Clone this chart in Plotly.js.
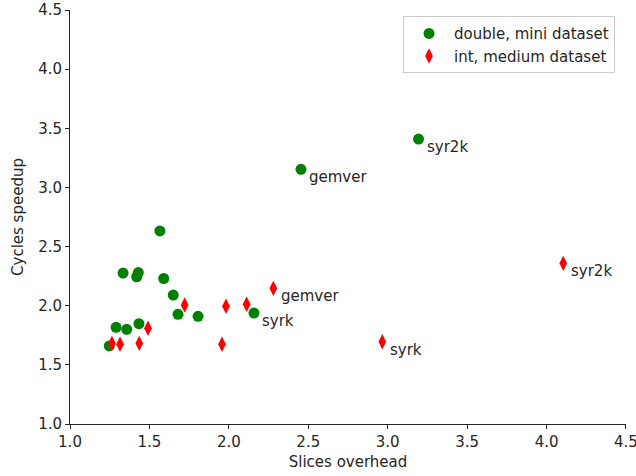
<!DOCTYPE html>
<html>
<head>
<meta charset="utf-8">
<script src="https://cdn.plot.ly/plotly-3.0.1.min.js"></script>
<style>html,body{margin:0;padding:0;background:#fff;}#chart{width:636px;height:476px;}</style>
</head>
<body>
<div id="chart"></div>
<script>
// double, mini dataset
const doubleX = [1.247, 1.29, 1.357, 1.334, 1.43, 1.42, 1.566, 1.59, 1.65, 1.68, 1.806, 2.158, 1.434, 2.454, 3.194];
const doubleY = [1.66, 1.817, 1.80, 2.276, 2.28, 2.245, 2.632, 2.23, 2.09, 1.927, 1.91, 1.938, 1.848, 3.153, 3.409];
const doubleLabels = ["", "", "", "", "", "", "", "", "", "", "", "syrk", "", "gemver", "syr2k"];
// int, medium dataset
const intX = [1.264, 1.315, 1.436, 1.491, 1.722, 1.957, 1.982, 2.112, 2.28, 2.966, 4.105];
const intY = [1.682, 1.674, 1.682, 1.809, 2.006, 1.674, 1.995, 2.012, 2.147, 1.696, 2.358];
const intLabels = ["", "", "", "", "", "", "", "", "gemver", "syrk", "syr2k"];

const xTicks = [1.0, 1.5, 2.0, 2.5, 3.0, 3.5, 4.0, 4.5];
const yTicks = [1.0, 1.5, 2.0, 2.5, 3.0, 3.5, 4.0, 4.5];

const font = {family: "DejaVu Sans", size: 15, color: "#262626"};

const traces = [
  {x: doubleX, y: doubleY, mode: "markers", type: "scatter", name: "double, mini dataset",
   marker: {color: "green", size: 11, symbol: "circle"}},
  {x: intX, y: intY, mode: "markers", type: "scatter", name: "int, medium dataset",
   marker: {color: "red", size: 11, symbol: "diamond-tall"}}
];

const annotations = [];
function addLabels(xs, ys, labels) {
  labels.forEach((t, i) => {
    if (t) annotations.push({x: xs[i], y: ys[i], text: t, showarrow: false,
      xanchor: "left", yanchor: "middle", xshift: 6, yshift: -8, font: font});
  });
}
addLabels(doubleX, doubleY, doubleLabels);
addLabels(intX, intY, intLabels);

const axisCommon = {
  showgrid: false, zeroline: false, showline: true, linecolor: "#262626", linewidth: 1,
  ticks: "outside", ticklen: 4, tickcolor: "#262626", tickfont: font, tickformat: ".1f",
  tickmode: "array", ticklabeloverflow: "allow"
};

const layout = {
  width: 636, height: 476,
  margin: {l: 70, r: 10, t: 10, b: 52},
  paper_bgcolor: "#fff", plot_bgcolor: "#fff",
  font: font,
  showlegend: true,
  legend: {x: 0.599, y: 0.985, xanchor: "left", yanchor: "top",
    bordercolor: "#cccccc", borderwidth: 1, bgcolor: "rgba(255,255,255,0.8)",
    font: font, tracegroupgap: 0, itemwidth: 40},
  xaxis: Object.assign({}, axisCommon, {range: [1.0, 4.5001], tickvals: xTicks,
    title: {text: "Slices overhead", font: font, standoff: 6}}),
  yaxis: Object.assign({}, axisCommon, {range: [1.0, 4.5001], tickvals: yTicks,
    title: {text: "Cycles speedup", font: font, standoff: 10}}),
  annotations: annotations
};

Plotly.newPlot("chart", traces, layout, {displayModeBar: false, staticPlot: true});
</script>
</body>
</html>
